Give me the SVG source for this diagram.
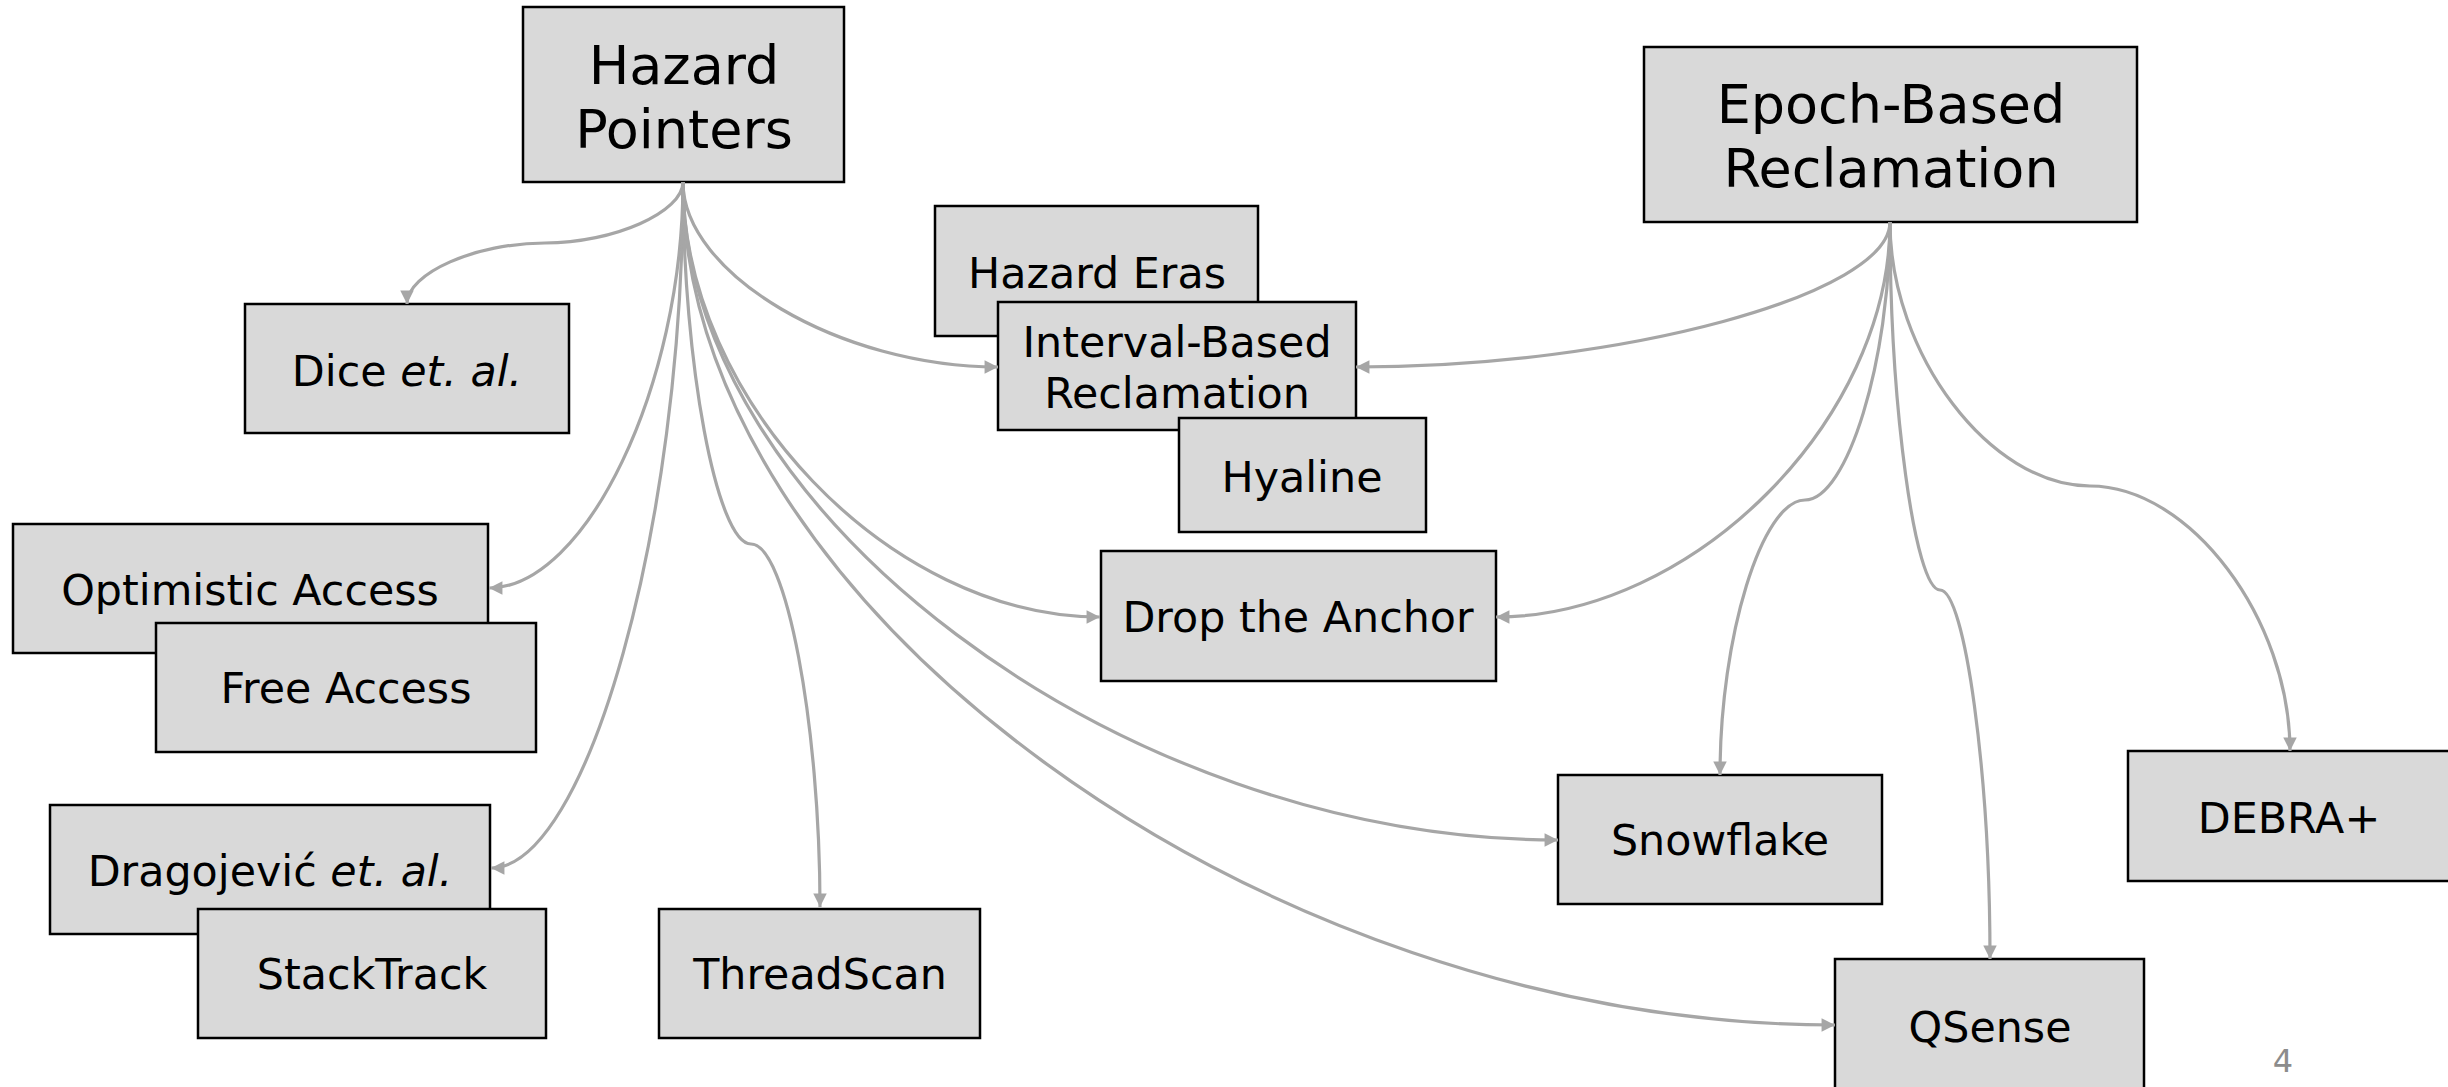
<svg xmlns="http://www.w3.org/2000/svg" width="2448" height="1087" viewBox="0 0 2448 1087">
  <style>
    .box { fill: #D9D9D9; stroke: #000; stroke-width: 2.5; }
    .lbl { font-family: "DejaVu Sans", Verdana, sans-serif; font-size: 42.8px; fill: #000; text-anchor: middle; }
    .big { font-size: 54px; }
    .conn { fill: none; stroke: #A6A6A6; stroke-width: 3.2; marker-end: url(#arrow); }
    .page { font-family: "DejaVu Sans", Verdana, sans-serif; font-size: 32px; fill: #8C8C8C; text-anchor: middle; }
  </style>
  <defs>
    <marker id="arrow" viewBox="0 0 10 10" refX="10" refY="5" markerWidth="5" markerHeight="4.2" orient="auto">
      <path d="M0,0 L10,5 L0,10 z" fill="#A6A6A6"/>
    </marker>
  </defs>
  <rect width="2448" height="1087" fill="#fff"/>

  <g id="hazard-pointers">
    <rect class="box" x="523" y="7" width="321" height="175"/>
    <text class="lbl big" x="684" y="84">Hazard</text>
    <text class="lbl big" x="684" y="148">Pointers</text>
  </g>
  <g id="epoch-based">
    <rect class="box" x="1644" y="47" width="493" height="175"/>
    <text class="lbl big" x="1891" y="123">Epoch-Based</text>
    <text class="lbl big" x="1891" y="187">Reclamation</text>
  </g>
  <g id="dice">
    <rect class="box" x="245" y="304" width="324" height="129"/>
    <text class="lbl" x="407" y="386">Dice <tspan font-style="italic">et. al.</tspan></text>
  </g>
  <g id="optimistic-access">
    <rect class="box" x="13" y="524" width="475" height="129"/>
    <text class="lbl" x="250" y="605">Optimistic Access</text>
  </g>
  <g id="free-access">
    <rect class="box" x="156" y="623" width="380" height="129"/>
    <text class="lbl" x="346" y="703">Free Access</text>
  </g>
  <g id="dragojevic">
    <rect class="box" x="50" y="805" width="440" height="129"/>
    <text class="lbl" x="270" y="886">Dragojević <tspan font-style="italic">et. al.</tspan></text>
  </g>
  <g id="stacktrack">
    <rect class="box" x="198" y="909" width="348" height="129"/>
    <text class="lbl" x="372" y="989">StackTrack</text>
  </g>
  <g id="threadscan">
    <rect class="box" x="659" y="909" width="321" height="129"/>
    <text class="lbl" x="820" y="989">ThreadScan</text>
  </g>
  <g id="hazard-eras">
    <rect class="box" x="935" y="206" width="323" height="130"/>
    <text class="lbl" x="1097" y="288">Hazard Eras</text>
  </g>
  <g id="interval-based">
    <rect class="box" x="998" y="302" width="358" height="128"/>
    <text class="lbl" x="1177" y="357">Interval-Based</text>
    <text class="lbl" x="1177" y="408">Reclamation</text>
  </g>
  <g id="hyaline">
    <rect class="box" x="1179" y="418" width="247" height="114"/>
    <text class="lbl" x="1302" y="492">Hyaline</text>
  </g>
  <g id="drop-the-anchor">
    <rect class="box" x="1101" y="551" width="395" height="130"/>
    <text class="lbl" x="1298" y="632">Drop the Anchor</text>
  </g>
  <g id="snowflake">
    <rect class="box" x="1558" y="775" width="324" height="129"/>
    <text class="lbl" x="1720" y="855">Snowflake</text>
  </g>
  <g id="qsense">
    <rect class="box" x="1835" y="959" width="309" height="140"/>
    <text class="lbl" x="1990" y="1042">QSense</text>
  </g>
  <g id="debra">
    <rect class="box" x="2128" y="751" width="330" height="130"/>
    <text class="lbl" x="2289" y="833">DEBRA+</text>
  </g>

  <g id="connectors">
    <!-- from Hazard Pointers -->
    <path class="conn" d="M683,182 C683,212 614,243 545,243 C476,243 407,273 407,304"/>
    <path class="conn" d="M683,182 C683,385 586,588 489,588"/>
    <path class="conn" d="M683,182 C683,525 587,868 491,868"/>
    <path class="conn" d="M683,182 C683,363 717,544 751,544 C786,544 820,725 820,907"/>
    <path class="conn" d="M683,182 C683,274 840,367 998,367"/>
    <path class="conn" d="M683,182 C683,400 890,617 1100,617"/>
    <path class="conn" d="M683,182 C683,511 1120,840 1558,840"/>
    <path class="conn" d="M683,182 C683,603 1259,1025 1835,1025"/>
    <!-- from Epoch-Based Reclamation -->
    <path class="conn" d="M1890,222 C1890,294 1623,367 1356,367"/>
    <path class="conn" d="M1890,222 C1890,420 1693,617 1496,617"/>
    <path class="conn" d="M1890,222 C1890,361 1847,500 1805,500 C1762,500 1720,637 1720,775"/>
    <path class="conn" d="M1890,222 C1890,406 1915,590 1940,590 C1965,590 1990,775 1990,959"/>
    <path class="conn" d="M1890,222 C1890,354 1990,486 2090,486 C2190,486 2290,619 2290,751"/>
  </g>

  <text class="page" x="2283" y="1072">4</text>
</svg>
